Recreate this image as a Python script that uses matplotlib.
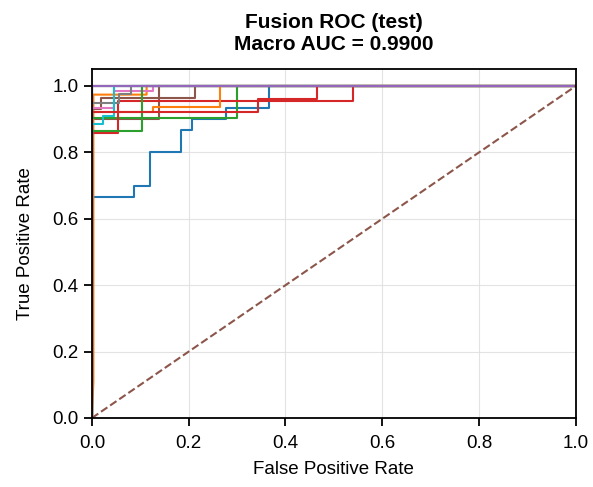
import matplotlib
matplotlib.use("Agg")
import matplotlib.pyplot as plt

plt.rcParams['font.family'] = ['Liberation Sans', 'DejaVu Sans']

# ROC curves (fpr, tpr step points)
curves = [
    # blue
    ([0, 0, 0.087, 0.087, 0.121, 0.121, 0.184, 0.184, 0.207, 0.207, 0.278, 0.278, 0.365, 0.365, 1],
     [0, 0.667, 0.667, 0.70, 0.70, 0.80, 0.80, 0.867, 0.867, 0.90, 0.90, 0.933, 0.933, 1, 1]),
    # orange
    ([0, 0.003, 0.003, 0.113, 0.113, 1],
     [0, 0.11, 0.974, 0.974, 1, 1]),
    # green
    ([0, 0, 0.299, 0.299, 1],
     [0, 0.903, 0.903, 1, 1]),
    # red
    ([0, 0, 0.054, 0.054, 0.539, 0.539, 1],
     [0, 0.857, 0.857, 0.955, 0.955, 1, 1]),
    # purple
    ([0, 0, 1], [0, 1, 1]),
    # brown
    ([0, 0, 0.018, 0.018, 0.213, 0.213, 1],
     [0, 0.93, 0.93, 0.964, 0.964, 1, 1]),
    # pink
    ([0, 0, 0.045, 0.045, 0.127, 0.127, 1],
     [0, 0.934, 0.934, 0.984, 0.984, 1, 1]),
    # gray
    ([0, 0, 0.057, 0.057, 0.08, 0.08, 1],
     [0, 0.95, 0.95, 0.975, 0.975, 1, 1]),
    # olive
    ([0, 0, 1], [0, 1, 1]),
    # cyan
    ([0, 0, 0.008, 0.023, 0.023, 0.045, 0.045, 1],
     [0, 0.885, 0.885, 0.885, 0.91, 0.91, 1, 1]),
    # blue (2nd)
    ([0, 0, 1], [0, 1, 1]),
    # orange (2nd)
    ([0, 0, 0.126, 0.126, 0.264, 0.264, 1],
     [0, 0.921, 0.921, 0.938, 0.938, 1, 1]),
    # green (2nd)
    ([0, 0, 0.103, 0.103, 1],
     [0, 0.864, 0.864, 1, 1]),
    # red (2nd)
    ([0, 0, 0.344, 0.344, 0.466, 0.466, 1],
     [0, 0.921, 0.921, 0.961, 0.961, 1, 1]),
    # purple (2nd)
    ([0, 0, 1], [0, 1, 1]),
]
extra_brown = ([0, 0, 0.139, 0.139], [0, 0.90, 0.90, 1])

colors = ['#1f77b4', '#ff7f0e', '#2ca02c', '#d62728', '#9467bd',
          '#8c564b', '#e377c2', '#7f7f7f', '#bcbd22', '#17becf']

fig = plt.figure(figsize=(5.93, 4.87), dpi=100)
ax = fig.add_axes([0.155, 0.1417, 0.816, 0.7158])

ax.plot(extra_brown[0], extra_brown[1], color='#8c564b', lw=1.5)
for i, (fpr, tpr) in enumerate(curves):
    ax.plot(fpr, tpr, color=colors[i % 10], lw=1.5)
ax.plot([0, 1], [0, 1], '--', color='#8c564b', lw=1.5)

ax.set_xlim(0, 1)
ax.set_ylim(0, 1.05)
ax.set_xticks([0, 0.2, 0.4, 0.6, 0.8, 1.0])
ax.set_yticks([0, 0.2, 0.4, 0.6, 0.8, 1.0])
ax.tick_params(labelsize=13.5, width=1.3, length=6)
ax.tick_params(axis='x', pad=6)
for s in ax.spines.values():
    s.set_linewidth(1.3)
ax.grid(True, color='#dddddd', lw=0.8, alpha=0.8)
ax.set_xlabel('False Positive Rate', fontsize=13.5, labelpad=7)
ax.set_ylabel('True Positive Rate', fontsize=13.5, labelpad=13)
ax.set_title('Fusion ROC (test)\nMacro AUC = 0.9900', fontsize=15,
             fontweight='bold', pad=14)

fig.savefig('out.png', dpi=100)
